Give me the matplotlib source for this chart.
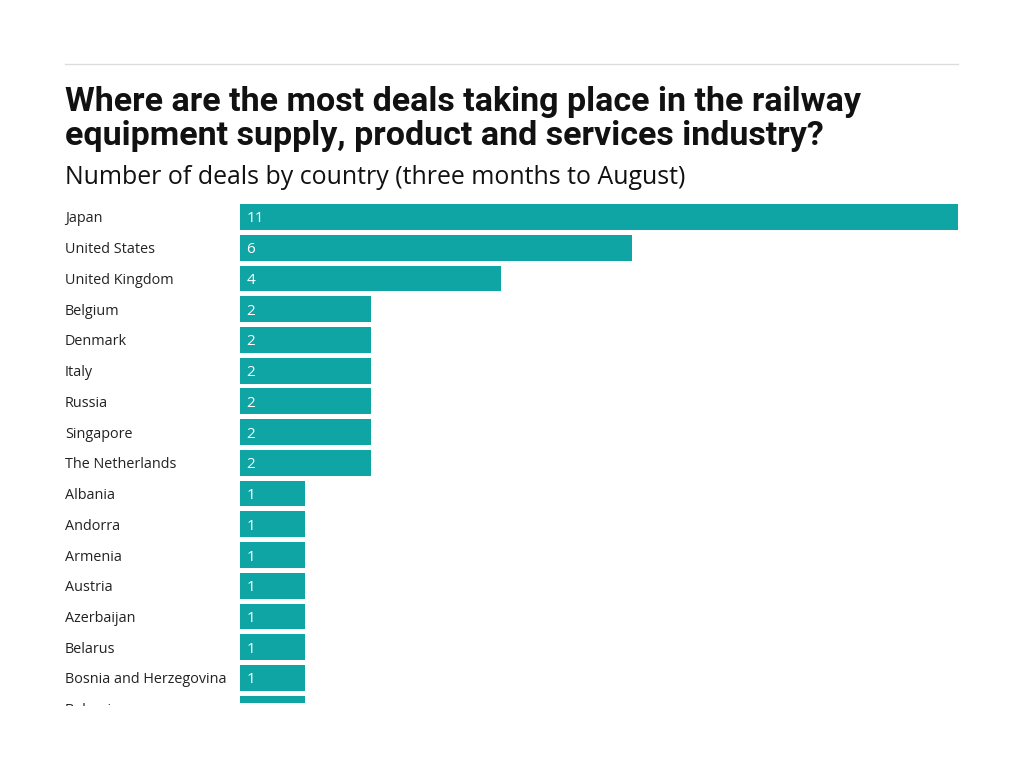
import matplotlib
matplotlib.use('Agg')
from matplotlib import pyplot as plt
from matplotlib.patches import Rectangle
from matplotlib import transforms

# data
countries = ['Japan', 'United States', 'United Kingdom', 'Belgium', 'Denmark',
             'Italy', 'Russia', 'Singapore', 'The Netherlands', 'Albania',
             'Andorra', 'Armenia', 'Austria', 'Azerbaijan', 'Belarus',
             'Bosnia and Herzegovina', 'Bulgaria']
deals = [11, 6, 4, 2, 2, 2, 2, 2, 2, 1, 1, 1, 1, 1, 1, 1, 1]

bar_colour = '#0ea5a4'
W, H = 1024, 768

plt.rcParams['font.family'] = ['Open Sans', 'DejaVu Sans']
fig = plt.figure(figsize=(W / 100, H / 100), dpi=100)

# axes placed in pixel terms
left, right, top, bottom = 240, 958, 200, 703
ax = fig.add_axes([left / W, 1 - bottom / H, (right - left) / W, (bottom - top) / H])

ypos = list(range(len(countries)))
ax.barh(ypos, deals, height=0.84, color=bar_colour)
for y, v in zip(ypos, deals):
    ax.text(0.1, y, str(v), color='white', va='center_baseline', ha='left', fontsize=11)

ax.set_xlim(0, 11)
row = 30.73
ax.set_ylim(-0.553 + (bottom - top) / row, -0.553)
ax.set_xticks([])
ax.set_yticks([])
for s in ax.spines.values():
    s.set_visible(False)

# country labels, clipped near the bottom of the plot area like the reference
clip = Rectangle((0, 1 - 706 / H), 1, 706 / H, transform=fig.transFigure,
                 visible=False)
fig.add_artist(clip)
trans = transforms.blended_transform_factory(fig.transFigure, ax.transData)
for y, name in zip(ypos, countries):
    t = ax.text(65 / W, y, name, transform=trans, va='center_baseline', ha='left',
                fontsize=10.35, color='#222222')
    t.set_clip_path(clip)
    t.set_clip_on(True)

# top rule
fig.add_artist(plt.Line2D([65 / W, 958 / W], [1 - 64 / H, 1 - 64 / H],
                          color='#dddddd', linewidth=1))

fig.text(65 / W, 1 - 119 / H, 'Where are the most deals taking place in the railway\n'
         'equipment supply, product and services industry?',
         fontsize=24.5, fontweight='bold', va='center', ha='left',
         linespacing=1.12, color='#111111', family=['Roboto', 'DejaVu Sans'])
fig.text(65 / W, 1 - 178 / H, 'Number of deals by country (three months to August)',
         fontsize=17.9, va='center', ha='left', color='#111111')

fig.savefig('out.png', dpi=100)
